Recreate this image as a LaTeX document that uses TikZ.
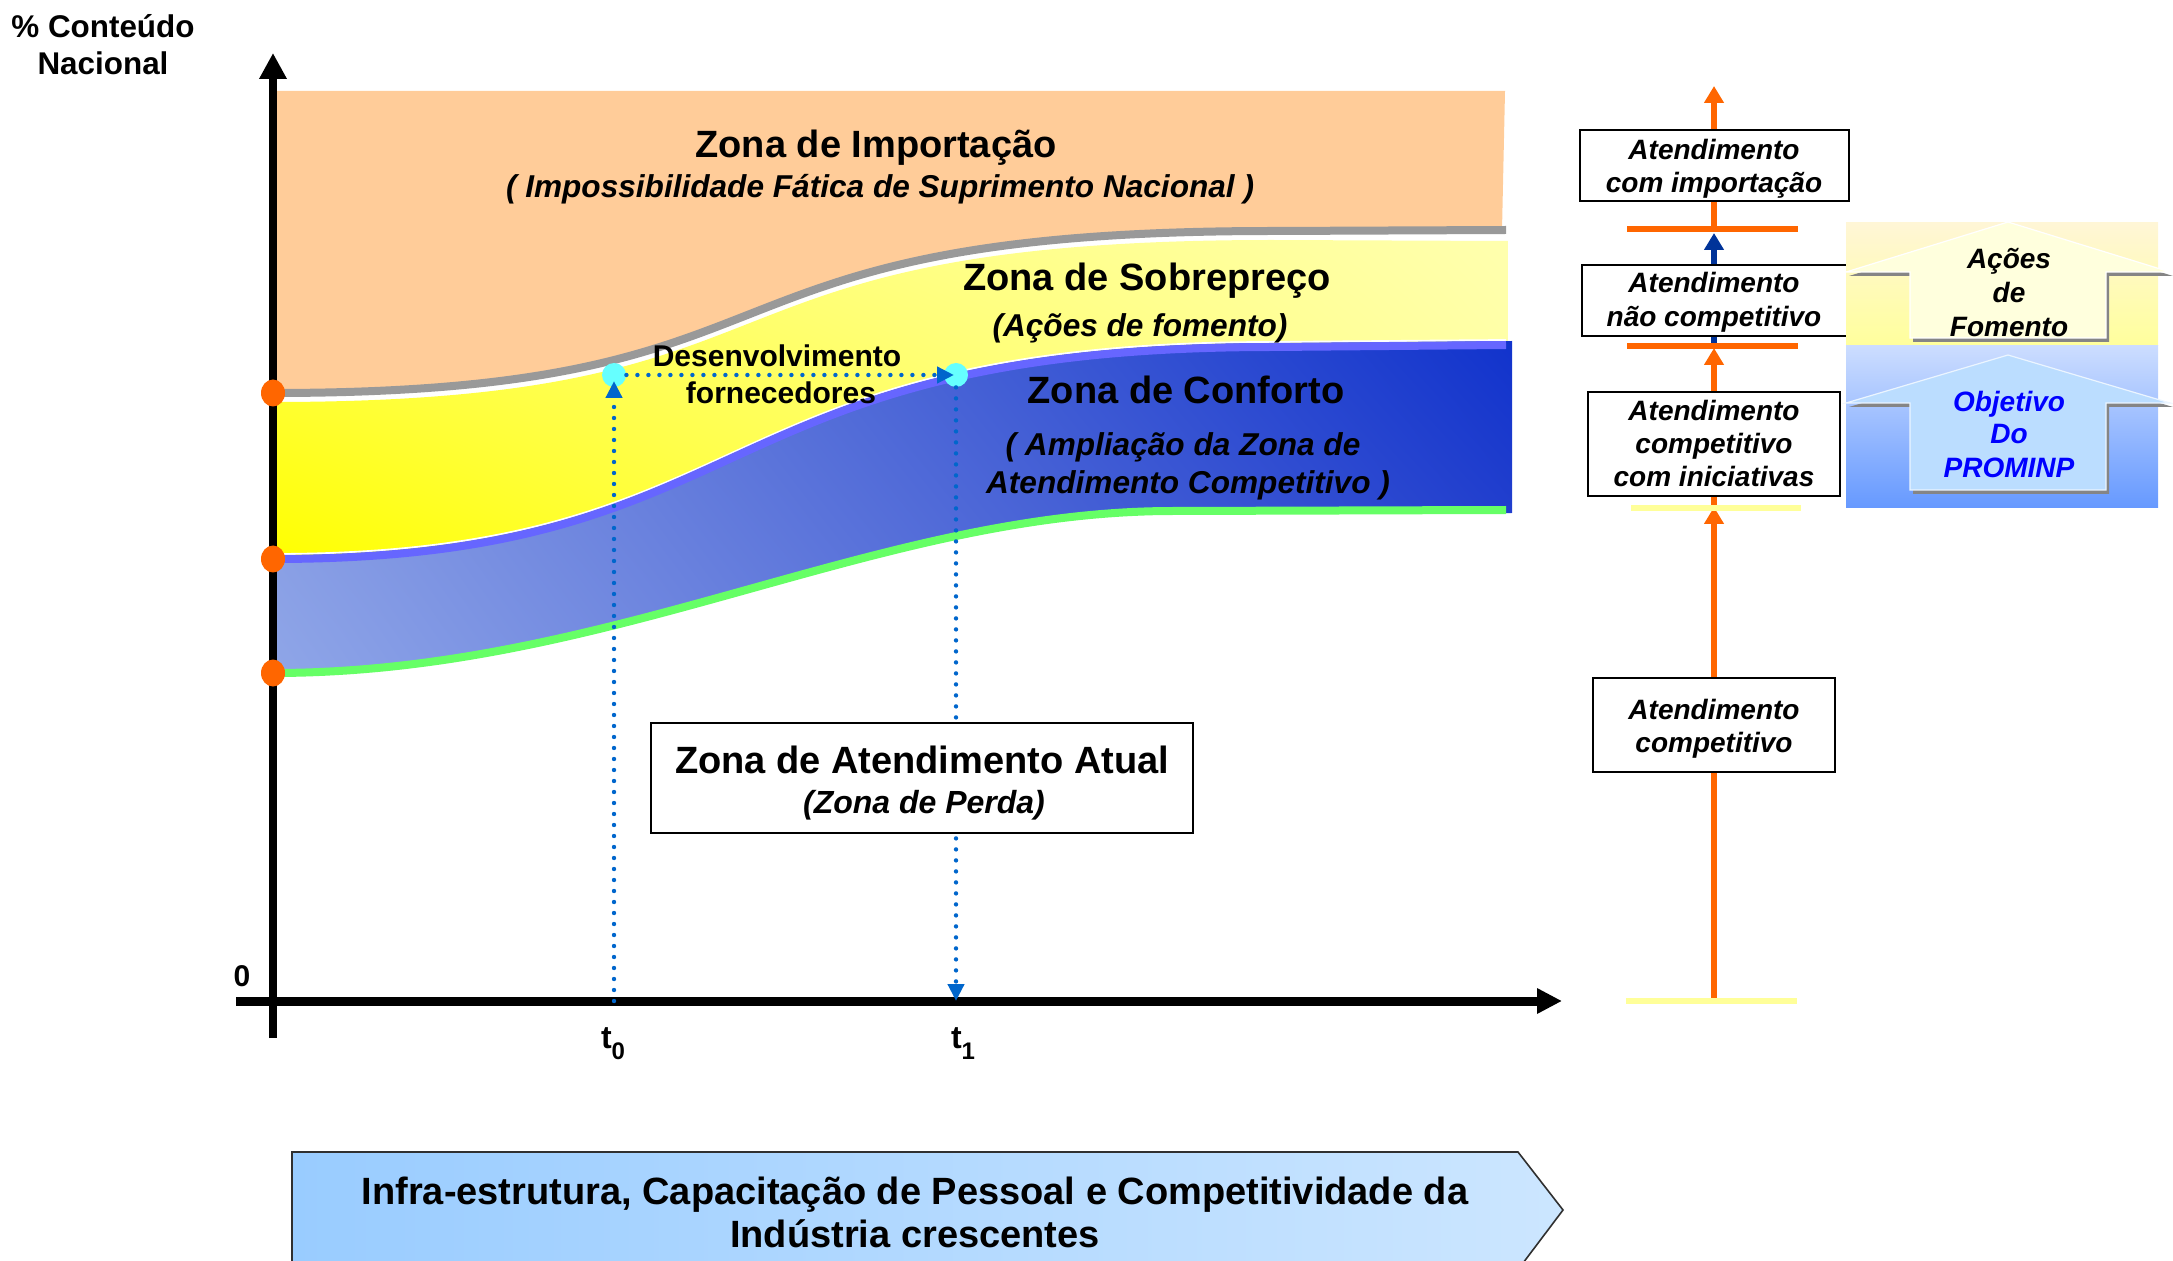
\documentclass[tikz,border=0pt]{standalone}
\usepackage{fontspec}
\setmainfont{Liberation Sans}
\usetikzlibrary{arrows.meta,shadings,shapes.geometric}
\newdimen\pxu \pxu=0.5pt
\definecolor{zorange}{HTML}{FFCC99}
\definecolor{zgray}{HTML}{999999}
\definecolor{zpurple}{HTML}{6666FF}
\definecolor{zgreen}{HTML}{66FF66}
\definecolor{korange}{HTML}{FF6600}
\definecolor{kcyan}{HTML}{66FFFF}
\definecolor{kdotblue}{HTML}{0066CC}
\definecolor{kdarkblue}{HTML}{003399}
\definecolor{kbaryellow}{HTML}{FFFF99}
\definecolor{ylLL}{HTML}{FFFF00}
\definecolor{ylUL}{HTML}{FFFF5C}
\definecolor{ylLR}{HTML}{FFFF99}
\definecolor{ylUR}{HTML}{FFFFAE}
\definecolor{blLL}{HTML}{8FA6E8}
\definecolor{blUL}{HTML}{8094E0}
\definecolor{blLR}{HTML}{3049CF}
\definecolor{blUR}{HTML}{1133CC}
\definecolor{pAtop}{HTML}{FFF6D6}
\definecolor{pAbot}{HTML}{FFFF9C}
\definecolor{pBtop}{HTML}{CCDDFF}
\definecolor{pBbot}{HTML}{6699FF}
\definecolor{arrA}{HTML}{FFFFDD}
\definecolor{arrB}{HTML}{BBDDFF}
\definecolor{shadowgray}{HTML}{858585}
\definecolor{botL}{HTML}{99CCFF}
\definecolor{botR}{HTML}{CCE6FF}
\definecolor{objblue}{HTML}{0000FF}
\definecolor{edgedark}{HTML}{303030}

\tikzset{
  ttl/.style={font=\fontsize{19}{23}\selectfont\bfseries, anchor=base, inner sep=0pt},
  sub/.style={font=\fontsize{15.8}{19}\selectfont\bfseries\itshape, anchor=base, inner sep=0pt},
  lbl/.style={font=\fontsize{15}{18}\selectfont\bfseries, anchor=base, inner sep=0pt},
  btx/.style={font=\fontsize{14}{17}\selectfont\bfseries\itshape, anchor=base, inner sep=0pt},
  framebox/.style={draw=black, fill=white, line width=1.25pt, inner sep=0pt},
  axisline/.style={line width=4pt, black},
  odot/.style={ellipse, fill=korange, minimum width=24\pxu, minimum height=27\pxu, inner sep=0pt},
  cdot/.style={circle, fill=kcyan, minimum size=24\pxu, inner sep=0pt},
  dotarrow/.style={kdotblue, line width=2.2pt, dash pattern=on 0pt off 5.5pt, line cap=round, -{Triangle[length=8.5pt,width=8pt]}},
  varrow/.style={line width=3pt, -{Triangle[length=8.5pt,width=9.5pt]}},
  hbar/.style={line width=3pt},
  curve/.style={line width=4pt},
}
\begin{document}
\begin{tikzpicture}[x=0.5pt,y=-0.5pt]
\useasboundingbox (0,0) rectangle (2173,1261);
\clip (0,0) rectangle (2173,1261);

% ---------- zones ----------
\fill[zorange] (273,91) -- (1505,91) -- (1502,230) -- (1273,231) .. controls (662,231) and (836,393) .. (273,393) -- cycle;
\shade[lower left=ylLL, upper left=ylUL, lower right=ylLR, upper right=ylUR]
  (273,402) .. controls (836,402) and (662,240) .. (1273,240) -- (1508,241)
  -- (1508,345) -- (1273,347) .. controls (698,347) and (767,559) .. (273,559) -- cycle;
\shade[lower left=blLL, upper left=blUL, lower right=blLR, upper right=blUR]
  (273,555) .. controls (767,555) and (698,343) .. (1273,343) -- (1512,341)
  -- (1512,513) -- (1173,514) .. controls (876,514) and (612,676) .. (273,676) -- cycle;

\draw[zgray, curve] (273,393) .. controls (836,393) and (662,231) .. (1273,231) -- (1506,230);
\draw[white, line width=0.9pt, yshift=2.5pt] (273,559) .. controls (767,559) and (698,347) .. (1273,347) -- (1506,345);
\draw[zpurple, curve] (273,559) .. controls (767,559) and (698,347) .. (1273,347) -- (1506,345);
\draw[zgreen, curve] (273,673) .. controls (612,673) and (876,511) .. (1173,511) -- (1506,510);

% ---------- zone labels ----------
\node[ttl] (zimp) at (876,158) {Zona de Importação};
\node[sub] (zimps) at (880,198) {( Impossibilidade Fática de Suprimento Nacional )};
\node[ttl] (zsob) at (1147,291) {Zona de Sobrepreço};
\node[sub] (zsobs) at (1140,337) {(Ações de fomento)};
\node[ttl] (zconf) at (1186,404) {Zona de Conforto};
\node[sub] (zconfa) at (1183,456) {( Ampliação da Zona de};
\node[sub] (zconfb) at (1188,494) {Atendimento Competitivo )};

% ---------- axes ----------
\coordinate (ybot) at (273,1038);
\coordinate (ytop) at (273,53);
\coordinate (xl) at (236,1001);
\coordinate (xr) at (1562,1001);
\draw[axisline, -{Triangle[length=13pt,width=13pt]}] (ybot) -- (ytop);
\draw[line width=4.5pt, -{Triangle[length=12.5pt,width=12pt]}] (xl) -- (xr);

\node[odot] (o1) at (273,393) {};
\node[odot] (o2) at (273,559) {};
\node[odot] (o3) at (273,673) {};

\node[font=\fontsize{15.7}{18.5}\selectfont\bfseries, anchor=base, inner sep=0pt] (ylab1) at (103,38) {\% Conteúdo};
\node[font=\fontsize{15.7}{18.5}\selectfont\bfseries, anchor=base, inner sep=0pt] (ylab2) at (103,75) {Nacional};
\node[lbl] (zero) at (242,986) {0};
\node[font=\fontsize{16}{19}\selectfont\bfseries, anchor=base, inner sep=0pt] (t0) at (613,1048) {t\raisebox{-5.5pt}{\fontsize{12}{12}\selectfont 0}};
\node[font=\fontsize{16}{19}\selectfont\bfseries, anchor=base, inner sep=0pt] (t1) at (963,1048) {t\raisebox{-5.5pt}{\fontsize{12}{12}\selectfont 1}};

% ---------- supplier development ----------
\coordinate (t0foot) at (614,1001);
\coordinate (t1foot) at (956,1001);
\node[cdot] (d0) at (614,375) {};
\node[cdot] (d1) at (956,375) {};
\draw[dotarrow, shorten >=3pt] (t0foot) -- (d0.center);
\draw[dotarrow, shorten >=1pt] (d0) -- (d1.center);
\draw[dotarrow] (d1) -- (t1foot);
\node[lbl] (des1) at (777,367) {Desenvolvimento};
\node[lbl] (des2) at (781,404) {fornecedores};

% ---------- current zone box ----------
\node[framebox, minimum width=542\pxu, minimum height=110\pxu] (zatual) at (922,778) {};
\node[ttl] (zatual1) at (922,773) {Zona de Atendimento Atual};
\node[font=\fontsize{16}{19}\selectfont\bfseries\itshape, anchor=base, inner sep=0pt] (zatual2) at (924,813) {(Zona de Perda)};

% ---------- right column ----------
\coordinate (rb4) at (1714,1001);
\coordinate (rb3) at (1714,508);
\coordinate (rb2) at (1714,346);
\coordinate (rb1) at (1714,229);
\coordinate (rtop) at (1714,86);
\draw[varrow, korange] (rb4) -- ([yshift=0.5pt]rb3);
\draw[varrow, korange] (rb3) -- ([yshift=-1pt]rb2);
\draw[varrow, kdarkblue] (rb2) -- ([yshift=-2pt]rb1);
\draw[varrow, korange] (rb1) -- (rtop);
\draw[hbar, korange] (1627,229) -- (1798,229);
\draw[hbar, korange] (1627,346) -- (1798,346);
\draw[hbar, kbaryellow] (1631,508) -- (1801,508);
\draw[hbar, kbaryellow] (1626,1001) -- (1797,1001);

\node[framebox, minimum width=269\pxu, minimum height=71\pxu] (bx1) at (1714.5,165.5) {};
\node[framebox, minimum width=266\pxu, minimum height=71\pxu] (bx2) at (1715,300.5) {};
\node[framebox, minimum width=252\pxu, minimum height=104\pxu] (bx3) at (1714,444) {};
\node[framebox, minimum width=242\pxu, minimum height=94\pxu] (bx4) at (1714,725) {};
\node[btx] (bx1a) at (1714,160) {Atendimento};
\node[btx] (bx1b) at (1714,193) {com importação};
\node[btx] (bx2a) at (1714,293) {Atendimento};
\node[btx] (bx2b) at (1714,327) {não competitivo};
\node[btx] (bx3a) at (1714,421) {Atendimento};
\node[btx] (bx3b) at (1714,454) {competitivo};
\node[btx] (bx3c) at (1714,487) {com iniciativas};
\node[btx] (bx4a) at (1714,719) {Atendimento};
\node[btx] (bx4b) at (1714,752) {competitivo};

% ---------- panels ----------
\shade[top color=pAtop, bottom color=pAbot] (1846,223) rectangle (2158,346);
\shade[top color=pBtop, bottom color=pBbot] (1846,346) rectangle (2158,508);
\begin{scope}[shift={(3,4)}]
\fill[shadowgray] (2008,222) -- (2170,272) -- (2106,272) -- (2106,338) -- (1910,338) -- (1910,272) -- (1846,272) -- cycle;
\fill[shadowgray] (2008,355) -- (2170,403) -- (2106,403) -- (2106,490) -- (1910,490) -- (1910,403) -- (1846,403) -- cycle;
\end{scope}
\filldraw[fill=arrA, draw=white, line width=0.6pt] (2008,222) -- (2170,272) -- (2106,272) -- (2106,338) -- (1910,338) -- (1910,272) -- (1846,272) -- cycle;
\filldraw[fill=arrB, draw=white!70!arrB, line width=0.6pt] (2008,355) -- (2170,403) -- (2106,403) -- (2106,490) -- (1910,490) -- (1910,403) -- (1846,403) -- cycle;
\node[btx] (pa1) at (2009,269) {Ações};
\node[btx] (pa2) at (2009,303) {de};
\node[btx] (pa3) at (2009,337) {Fomento};
\node[btx, objblue] (pb1) at (2009,412) {Objetivo};
\node[btx, objblue] (pb2) at (2009,444) {Do};
\node[btx, objblue] (pb3) at (2009,478) {PROMINP};

% ---------- bottom arrow ----------
\shadedraw[left color=botL, right color=botR, draw=edgedark, line width=0.8pt]
  (292,1275) -- (292,1152) -- (1518,1152) -- (1563,1210) -- (1514,1275) -- cycle;
\node[ttl] (bot1) at (915,1204) {Infra-estrutura, Capacitação de Pessoal e Competitividade da};
\node[ttl] (bot2) at (915,1247) {Indústria crescentes};
\end{tikzpicture}
\end{document}
